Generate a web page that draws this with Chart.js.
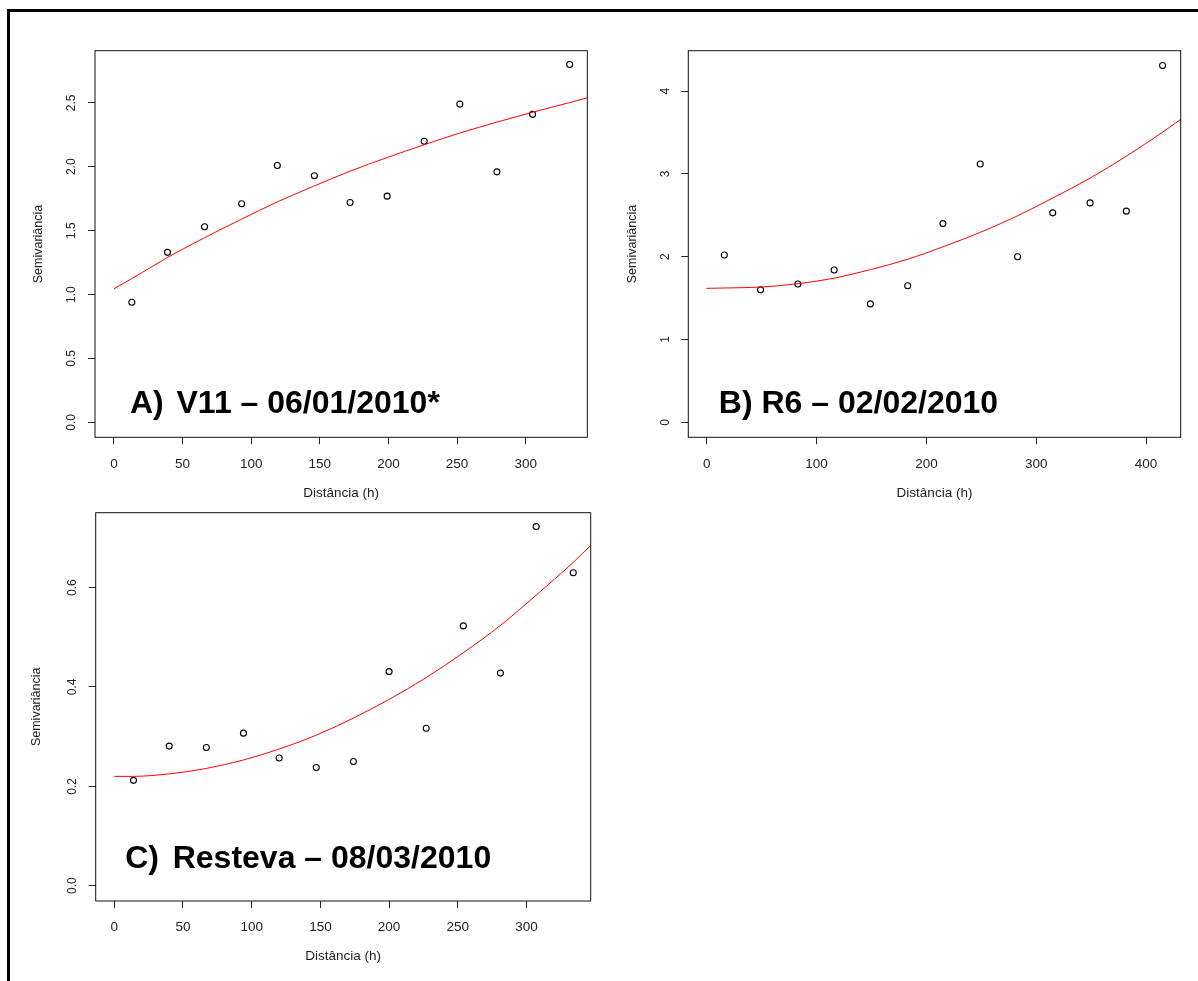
<!DOCTYPE html>
<html>
<head>
<meta charset="utf-8">
<title>Semivariogramas</title>
<script src="https://cdn.jsdelivr.net/npm/chart.js@4.4.1/dist/chart.umd.min.js"></script>
<style>
  html, body { margin: 0; padding: 0; background: #fff; }
  body { width: 1198px; height: 981px; position: relative; overflow: hidden; }
  .frame { position: absolute; left: 7px; top: 9px; right: -20px; bottom: -20px;
           border-left: 3px solid #000; border-top: 3px solid #000; }
  canvas { position: absolute; }
</style>
</head>
<body>
<div class="frame"></div>
<canvas id="chartA" width="600" height="510" style="left:0;top:0"></canvas>
<canvas id="chartB" width="598" height="510" style="left:600px;top:0"></canvas>
<canvas id="chartC" width="600" height="486" style="left:0;top:495px"></canvas>
<script>
// A) V11 - 06/01/2010
const distA  = [13, 39, 66, 93, 119, 146, 172, 199, 226, 252, 279, 305, 332];
const gammaA = [0.94, 1.33, 1.53, 1.71, 2.01, 1.93, 1.72, 1.77, 2.20, 2.49, 1.96, 2.41, 2.80];
const fitDistA = [0, 13, 39, 66, 93, 119, 146, 172, 199, 226, 252, 279, 305, 332, 345];
const fitA     = [1.045, 1.125, 1.29, 1.445, 1.59, 1.725, 1.85, 1.965, 2.072, 2.172, 2.264, 2.349, 2.427, 2.502, 2.54];
const xTicksA = [0, 50, 100, 150, 200, 250, 300];
const yTicksA = [0, 0.5, 1, 1.5, 2, 2.5];

// B) R6 - 02/02/2010
const distB  = [16, 49, 83, 116, 149, 183, 215, 249, 283, 315, 349, 382, 415];
const gammaB = [2.02, 1.60, 1.67, 1.84, 1.43, 1.65, 2.40, 3.12, 2.00, 2.53, 2.65, 2.55, 4.31];
const fitDistB = [0, 16, 50, 83, 117, 149, 183, 215, 249, 283, 315, 349, 382, 415, 432];
const fitB     = [1.618, 1.622, 1.634, 1.674, 1.744, 1.844, 1.969, 2.119, 2.294, 2.494, 2.709, 2.949, 3.214, 3.504, 3.664];
const xTicksB = [0, 100, 200, 300, 400];
const yTicksB = [0, 1, 2, 3, 4];

// C) Resteva - 08/03/2010
const distC  = [14, 40, 67, 94, 120, 147, 174, 200, 227, 254, 281, 307, 334];
const gammaC = [0.212, 0.281, 0.278, 0.307, 0.257, 0.238, 0.250, 0.431, 0.317, 0.523, 0.428, 0.723, 0.630];
const fitDistC = [0, 13, 40, 67, 94, 120, 147, 173, 200, 227, 254, 281, 307, 334, 347];
const fitC     = [0.220, 0.220, 0.225, 0.236, 0.253, 0.275, 0.303, 0.336, 0.375, 0.419, 0.469, 0.524, 0.585, 0.651, 0.686];
const xTicksC = [0, 50, 100, 150, 200, 250, 300];
const yTicksC = [0, 0.2, 0.4, 0.6];

const FONT = '"Liberation Sans", Arial, Helvetica, sans-serif';
const INK = '#222';

// box around the plot, y labels written along the axis, and the panel caption
const panelDecor = {
  id: 'panelDecor',
  afterDatasetsDraw(chart, args, opts) {
    const { ctx, chartArea: a, scales: { y } } = chart;
    ctx.save();
    ctx.strokeStyle = '#111';
    ctx.lineWidth = 1;
    ctx.strokeRect(a.left, a.top, a.right - a.left, a.bottom - a.top);

    ctx.fillStyle = INK;
    ctx.font = '12px ' + FONT;
    ctx.textAlign = 'center';
    ctx.textBaseline = 'middle';
    y.ticks.forEach(t => {
      ctx.save();
      ctx.translate(a.left - 23, y.getPixelForValue(t.value));
      ctx.rotate(-Math.PI / 2);
      ctx.fillText(opts.yFmt(t.value), 0, 0);
      ctx.restore();
    });

    ctx.fillStyle = '#000';
    ctx.font = 'bold 32px ' + FONT;
    ctx.textAlign = 'left';
    ctx.textBaseline = 'alphabetic';
    const base = a.bottom - opts.capY;
    ctx.fillText(opts.tag, a.left + opts.tagX, base);
    if (opts.text) ctx.fillText(opts.text, a.left + opts.textX, base);
    ctx.restore();
  }
};

function toPoints(xs, ys) {
  return xs.map((x, i) => ({ x: x, y: ys[i] }));
}

function drawPanel(id, p) {
  return new Chart(document.getElementById(id), {
    type: 'scatter',
    data: {
      datasets: [
        {
          data: toPoints(p.fitX, p.fitY),
          showLine: true,
          borderColor: '#ff0000',
          borderWidth: 1,
          pointRadius: 0,
          cubicInterpolationMode: 'monotone'
        },
        {
          data: toPoints(p.ptX, p.ptY),
          pointRadius: 3,
          pointBorderWidth: 1.1,
          borderColor: '#000',
          backgroundColor: 'rgba(0,0,0,0)'
        }
      ]
    },
    options: {
      responsive: false,
      animation: false,
      devicePixelRatio: 1,
      layout: { padding: p.pad },
      plugins: {
        legend: { display: false },
        tooltip: { enabled: false },
        panelDecor: p.decor
      },
      scales: {
        x: {
          type: 'linear',
          min: p.xMin, max: p.xMax,
          afterBuildTicks: s => { s.ticks = p.xTicks.map(v => ({ value: v })); },
          afterFit: s => { s.height = p.xH; },
          border: { display: false },
          grid: { drawOnChartArea: false, drawTicks: true, tickLength: 7, color: INK },
          ticks: { padding: 11.5, color: INK, font: { family: FONT, size: 13.5 }, callback: v => String(v) },
          title: { display: true, text: 'Distância (h)', padding: 0, color: INK, font: { family: FONT, size: 13.5 } }
        },
        y: {
          type: 'linear',
          min: p.yMin, max: p.yMax,
          afterBuildTicks: s => { s.ticks = p.yTicks.map(v => ({ value: v })); },
          afterFit: s => { s.width = p.yW; },
          border: { display: false },
          grid: { drawOnChartArea: false, drawTicks: true, tickLength: 7, color: INK },
          ticks: { display: false },
          title: { display: true, text: 'Semivariância', padding: 0, color: INK, font: { family: FONT, size: 12.5 } }
        }
      }
    },
    plugins: [panelDecor]
  });
}

const fmt1 = v => v.toFixed(1);
const fmt0 = v => v.toFixed(0);

drawPanel('chartA', {
  ptX: distA, ptY: gammaA, fitX: fitDistA, fitY: fitA,
  xTicks: xTicksA, yTicks: yTicksA,
  xMin: -13.84, xMax: 344.85, yMin: -0.117, yMax: 2.908,
  pad: { left: 30.7, top: 50.7, right: 12.7, bottom: 9.1 },
  yW: 64.3, xH: 63.6,
  decor: { yFmt: fmt1, tag: 'A)', text: 'V11 – 06/01/2010*', tagX: 35, textX: 81.5, capY: 24.6 }
});

drawPanel('chartB', {
  ptX: distB, ptY: gammaB, fitX: fitDistB, fitY: fitB,
  xTicks: xTicksB, yTicks: yTicksB,
  xMin: -16.75, xMax: 431.5, yMin: -0.181, yMax: 4.488,
  pad: { left: 24.8, top: 50.7, right: 17.3, bottom: 9.1 },
  yW: 63.5, xH: 63.6,
  decor: { yFmt: fmt0, tag: 'B) R6 – 02/02/2010', text: '', tagX: 30.5, textX: 0, capY: 24.6 }
});

drawPanel('chartC', {
  ptX: distC, ptY: gammaC, fitX: fitDistC, fitY: fitC,
  xTicks: xTicksC, yTicks: yTicksC,
  xMin: -13.5, xMax: 346.7, yMin: -0.031, yMax: 0.751,
  pad: { left: 29.5, top: 17.7, right: 9.3, bottom: 16.4 },
  yW: 66.2, xH: 63.6,
  decor: { yFmt: fmt1, tag: 'C)', text: 'Resteva – 08/03/2010', tagX: 29.5, textX: 77, capY: 33.3 }
});
</script>
</body>
</html>
